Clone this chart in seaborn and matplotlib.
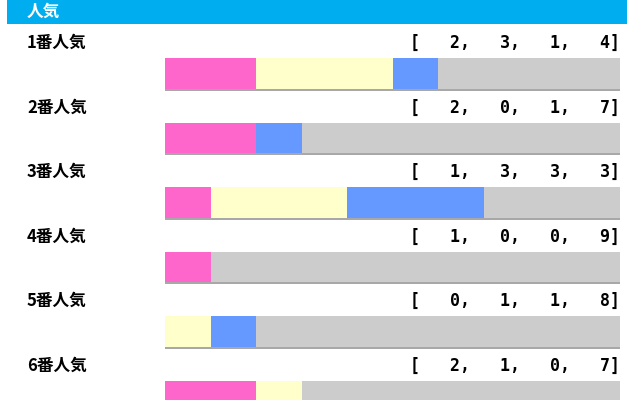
import matplotlib
matplotlib.use("Agg")
import matplotlib.pyplot as plt
import matplotlib.patches as mpatches
from matplotlib.transforms import ScaledTranslation, blended_transform_factory
import seaborn as sns
import pandas as pd
import numpy as np

# ---- data ----
ranks = ["1番人気", "2番人気", "3番人気", "4番人気", "5番人気", "6番人気"]
first = [2, 2, 1, 1, 0, 2]
second = [3, 0, 3, 0, 1, 1]
third = [1, 1, 3, 0, 1, 0]
other = [4, 7, 3, 9, 8, 7]
header_title = "人気"

colors = {"first": "#FF66CC", "second": "#FFFFCC", "third": "#6699FF", "other": "#CCCCCC"}
shadow_color = "#A8A8A8"

sns.set_style("white")
plt.rcParams["font.family"] = ["Noto Sans CJK JP", "DejaVu Sans"]
plt.rcParams["text.color"] = "black"

df = pd.DataFrame({"rank": ranks, "first": first, "second": second,
                   "third": third, "other": other})
df["c1"] = df["first"]
df["c2"] = df["c1"] + df["second"]
df["c3"] = df["c2"] + df["third"]
df["c4"] = df["c3"] + df["other"]

fig = plt.figure(figsize=(6.4, 4.0), dpi=100)
fig.patch.set_facecolor("white")

# header band
fig.patches.append(mpatches.Rectangle((7 / 640, 1 - 24 / 400), 620 / 640, 24 / 400,
                                      transform=fig.transFigure, facecolor="#00AEEF",
                                      edgecolor="none", zorder=0))
fig.text(27 / 640, 1 - 12 / 400, header_title, color="white", fontsize=12,
         fontweight="bold", va="center", ha="left")

ax = fig.add_axes([165 / 640, 0, 455 / 640, 1])
ax.set_facecolor("none")

bw = 0.48
# shadow (bottom and right edge)
sns.barplot(data=df, y="rank", x="c4", color=shadow_color, orient="h", width=bw,
            ax=ax, saturation=1, linewidth=0)
n_shadow = len(ax.patches)
off = ScaledTranslation(2 / 100, -2 / 100, fig.dpi_scale_trans)
off_down = ScaledTranslation(0, -2 / 100, fig.dpi_scale_trans)
for p in ax.patches[:n_shadow]:
    p.set_transform(ax.transData + off)
sns.barplot(data=df, y="rank", x="c4", color=shadow_color, orient="h", width=bw,
            ax=ax, saturation=1, linewidth=0)
for p in ax.patches[n_shadow:]:
    p.set_transform(ax.transData + off_down)

for col, key in [("c4", "other"), ("c3", "third"), ("c2", "second"), ("c1", "first")]:
    sns.barplot(data=df, y="rank", x=col, color=colors[key], orient="h", width=bw,
                ax=ax, saturation=1, linewidth=0)

row_px0, row_step = 73.5, 64.5
ax.set_xlim(0, 10)
ax.set_ylim((400 - row_px0) / row_step, -row_px0 / row_step)
ax.axis("off")

lab_tr = blended_transform_factory(fig.transFigure, ax.transData)
for i, r in df.iterrows():
    ytxt = i - 30.5 / row_step
    ax.text(27 / 640, ytxt, r["rank"], transform=lab_tr, fontsize=12,
            fontweight="bold", va="center", ha="left", clip_on=False, color="black")
    vals = [r["first"], r["second"], r["third"], r["other"]]
    s = "[   " + ",   ".join(str(v) for v in vals) + "]"
    ax.text(10.0, ytxt, s, fontsize=12, fontweight="bold", va="center", ha="right",
            family="DejaVu Sans Mono", clip_on=False, color="black")

fig.savefig("out.png", dpi=100)
